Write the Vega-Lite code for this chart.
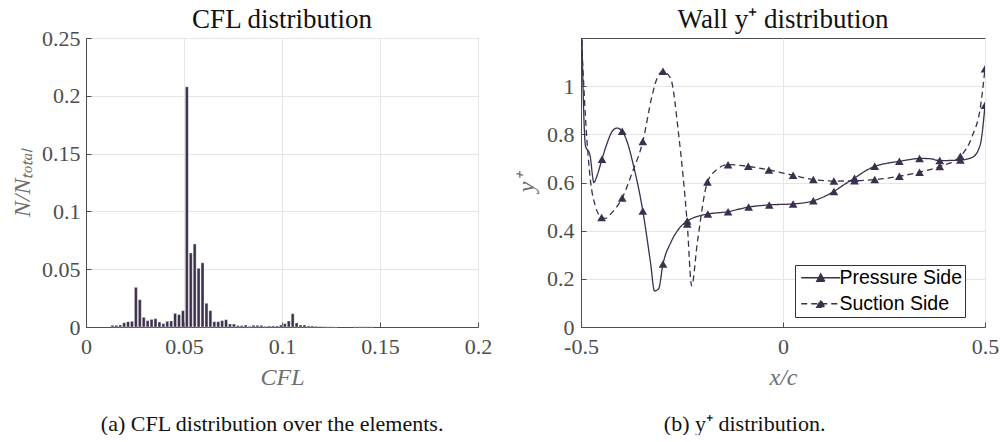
{
  "$schema": "https://vega.github.io/schema/vega-lite/v6.json",
  "background": "white",
  "padding": {"left": 10, "top": 5, "right": 0, "bottom": 0},
  "config": {
    "font": "Liberation Serif",
    "view": {"stroke": "#4d4d4d", "strokeWidth": 1},
    "axis": {
      "grid": true, "gridColor": "#e6e6e6", "gridWidth": 1,
      "domainColor": "#4d4d4d", "tickColor": "#4d4d4d", "tickSize": -5,
      "labelFont": "Liberation Serif", "labelFontSize": 22, "labelColor": "#4d4d4d",
      "labelFlush": false, "labelOverlap": false,
      "titleFont": "Liberation Serif", "titleFontSize": 24, "titleFontStyle": "italic",
      "titleFontWeight": "normal", "titleColor": "#6e6e6e"
    },
    "title": {"font": "Liberation Serif", "fontSize": 27, "fontWeight": "normal", "color": "#111111"},
    "concat": {"spacing": 21}
  },
  "hconcat": [
    {
      "title": {"text": "(a) CFL distribution over the elements.", "orient": "bottom", "anchor": "middle", "fontSize": 22, "color": "#111111", "offset": 24, "dx": 21},
      "vconcat": [
        {
          "title": {"text": "CFL distribution", "offset": -7},
          "width": 392,
          "height": 289,
          "data": {"values": [
            {"lo": 0.0122, "hi": 0.0142, "f": 0.0014},
            {"lo": 0.0142, "hi": 0.0162, "f": 0.0014},
            {"lo": 0.0162, "hi": 0.0182, "f": 0.0017},
            {"lo": 0.0182, "hi": 0.0202, "f": 0.0037},
            {"lo": 0.0202, "hi": 0.0222, "f": 0.0046},
            {"lo": 0.0222, "hi": 0.0242, "f": 0.0049},
            {"lo": 0.0242, "hi": 0.0262, "f": 0.0343},
            {"lo": 0.0262, "hi": 0.0282, "f": 0.0236},
            {"lo": 0.0282, "hi": 0.0302, "f": 0.0084},
            {"lo": 0.0302, "hi": 0.0322, "f": 0.0055},
            {"lo": 0.0322, "hi": 0.0342, "f": 0.0066},
            {"lo": 0.0342, "hi": 0.0362, "f": 0.0072},
            {"lo": 0.0362, "hi": 0.0382, "f": 0.0043},
            {"lo": 0.0382, "hi": 0.0402, "f": 0.0029},
            {"lo": 0.0402, "hi": 0.0422, "f": 0.0049},
            {"lo": 0.0422, "hi": 0.0442, "f": 0.0052},
            {"lo": 0.0442, "hi": 0.0462, "f": 0.0118},
            {"lo": 0.0462, "hi": 0.0482, "f": 0.0107},
            {"lo": 0.0482, "hi": 0.0502, "f": 0.0141},
            {"lo": 0.0502, "hi": 0.0522, "f": 0.2078},
            {"lo": 0.0522, "hi": 0.0542, "f": 0.064},
            {"lo": 0.0542, "hi": 0.0562, "f": 0.0718},
            {"lo": 0.0562, "hi": 0.0582, "f": 0.0508},
            {"lo": 0.0582, "hi": 0.0602, "f": 0.0555},
            {"lo": 0.0602, "hi": 0.0622, "f": 0.0205},
            {"lo": 0.0622, "hi": 0.0642, "f": 0.0141},
            {"lo": 0.0642, "hi": 0.0662, "f": 0.0046},
            {"lo": 0.0662, "hi": 0.0682, "f": 0.0046},
            {"lo": 0.0682, "hi": 0.0702, "f": 0.0055},
            {"lo": 0.0702, "hi": 0.0722, "f": 0.0063},
            {"lo": 0.0722, "hi": 0.0742, "f": 0.0026},
            {"lo": 0.0742, "hi": 0.0762, "f": 0.0026},
            {"lo": 0.0762, "hi": 0.0782, "f": 0.0012},
            {"lo": 0.0782, "hi": 0.0802, "f": 0.0012},
            {"lo": 0.0802, "hi": 0.0822, "f": 0.0017},
            {"lo": 0.0822, "hi": 0.0842, "f": 0.0006},
            {"lo": 0.0842, "hi": 0.0862, "f": 0.0015},
            {"lo": 0.0862, "hi": 0.0882, "f": 0.0014},
            {"lo": 0.0882, "hi": 0.0902, "f": 0.0014},
            {"lo": 0.0902, "hi": 0.0922, "f": 0.0006},
            {"lo": 0.0922, "hi": 0.0942, "f": 0.0009},
            {"lo": 0.0942, "hi": 0.0962, "f": 0.0009},
            {"lo": 0.0962, "hi": 0.0982, "f": 0.0009},
            {"lo": 0.0982, "hi": 0.1002, "f": 0.0017},
            {"lo": 0.1002, "hi": 0.1022, "f": 0.0029},
            {"lo": 0.1022, "hi": 0.1042, "f": 0.0052},
            {"lo": 0.1042, "hi": 0.1062, "f": 0.0115},
            {"lo": 0.1062, "hi": 0.1082, "f": 0.0035},
            {"lo": 0.1082, "hi": 0.1102, "f": 0.0017},
            {"lo": 0.1102, "hi": 0.1122, "f": 0.0017},
            {"lo": 0.1122, "hi": 0.1142, "f": 0.0009},
            {"lo": 0.1142, "hi": 0.1162, "f": 0.0009},
            {"lo": 0.1162, "hi": 0.1182, "f": 0.0006},
            {"lo": 0.1182, "hi": 0.1202, "f": 0.0005},
            {"lo": 0.1202, "hi": 0.1222, "f": 0.0003},
            {"lo": 0.1222, "hi": 0.1242, "f": 0.0002},
            {"lo": 0.1242, "hi": 0.1262, "f": 0.0002},
            {"lo": 0.1262, "hi": 0.1282, "f": 0.0001},
            {"lo": 0.1362, "hi": 0.1382, "f": 0.0002},
            {"lo": 0.1382, "hi": 0.1402, "f": 0.0002},
            {"lo": 0.1402, "hi": 0.1422, "f": 0.0002},
            {"lo": 0.1422, "hi": 0.1442, "f": 0.0002},
            {"lo": 0.1442, "hi": 0.1462, "f": 0.0002}
          ]},
          "mark": {"type": "bar", "color": "#3b2f4c", "stroke": "white", "strokeWidth": 0.35},
          "encoding": {
            "x": {"field": "lo", "type": "quantitative", "bin": "binned",
                  "scale": {"domain": [0, 0.2], "nice": false, "zero": false},
                  "axis": {"values": [0, 0.05, 0.1, 0.15, 0.2], "labelExpr": "toString(datum.value)", "title": "CFL", "labelPadding": 14, "titlePadding": 8}},
            "x2": {"field": "hi"},
            "y": {"field": "f", "type": "quantitative",
                  "scale": {"domain": [0, 0.25], "nice": false},
                  "axis": {"values": [0, 0.05, 0.1, 0.15, 0.2, 0.25], "labelExpr": "toString(datum.value)", "title": "N/Nₜₒₜₐₗ", "labelPadding": 11, "titlePadding": 7}}
          }
        }
      ]
    },
    {
      "title": {"text": "(b) y⁺ distribution.", "orient": "bottom", "anchor": "middle", "fontSize": 22, "color": "#111111", "offset": 24, "dx": -12},
      "vconcat": [
        {
          "title": {"text": "Wall y⁺ distribution", "offset": 4},
          "width": 404,
          "height": 289,
          "data": {"values": [
            {"side": "Pressure Side", "x": -0.5, "y": 1.4, "m": 0},
            {"side": "Pressure Side", "x": -0.4965, "y": 1.1, "m": 0},
            {"side": "Pressure Side", "x": -0.489, "y": 0.753, "m": 0},
            {"side": "Pressure Side", "x": -0.478, "y": 0.715, "m": 0},
            {"side": "Pressure Side", "x": -0.468, "y": 0.6, "m": 0},
            {"side": "Pressure Side", "x": -0.46, "y": 0.63, "m": 0},
            {"side": "Pressure Side", "x": -0.448, "y": 0.697, "m": 1},
            {"side": "Pressure Side", "x": -0.435, "y": 0.765, "m": 0},
            {"side": "Pressure Side", "x": -0.423, "y": 0.812, "m": 0},
            {"side": "Pressure Side", "x": -0.411, "y": 0.826, "m": 0},
            {"side": "Pressure Side", "x": -0.398, "y": 0.813, "m": 1},
            {"side": "Pressure Side", "x": -0.385, "y": 0.765, "m": 0},
            {"side": "Pressure Side", "x": -0.372, "y": 0.684, "m": 0},
            {"side": "Pressure Side", "x": -0.347, "y": 0.482, "m": 1},
            {"side": "Pressure Side", "x": -0.328, "y": 0.268, "m": 0},
            {"side": "Pressure Side", "x": -0.318, "y": 0.15, "m": 0},
            {"side": "Pressure Side", "x": -0.308, "y": 0.158, "m": 0},
            {"side": "Pressure Side", "x": -0.297, "y": 0.262, "m": 1},
            {"side": "Pressure Side", "x": -0.278, "y": 0.35, "m": 0},
            {"side": "Pressure Side", "x": -0.258, "y": 0.407, "m": 0},
            {"side": "Pressure Side", "x": -0.237, "y": 0.44, "m": 1},
            {"side": "Pressure Side", "x": -0.216, "y": 0.457, "m": 0},
            {"side": "Pressure Side", "x": -0.186, "y": 0.469, "m": 1},
            {"side": "Pressure Side", "x": -0.136, "y": 0.479, "m": 1},
            {"side": "Pressure Side", "x": -0.085, "y": 0.498, "m": 1},
            {"side": "Pressure Side", "x": -0.034, "y": 0.507, "m": 1},
            {"side": "Pressure Side", "x": 0.025, "y": 0.511, "m": 1},
            {"side": "Pressure Side", "x": 0.075, "y": 0.524, "m": 1},
            {"side": "Pressure Side", "x": 0.126, "y": 0.563, "m": 1},
            {"side": "Pressure Side", "x": 0.152, "y": 0.592, "m": 0},
            {"side": "Pressure Side", "x": 0.177, "y": 0.618, "m": 1},
            {"side": "Pressure Side", "x": 0.202, "y": 0.646, "m": 0},
            {"side": "Pressure Side", "x": 0.227, "y": 0.667, "m": 1},
            {"side": "Pressure Side", "x": 0.258, "y": 0.68, "m": 0},
            {"side": "Pressure Side", "x": 0.288, "y": 0.688, "m": 1},
            {"side": "Pressure Side", "x": 0.313, "y": 0.695, "m": 0},
            {"side": "Pressure Side", "x": 0.338, "y": 0.7, "m": 1},
            {"side": "Pressure Side", "x": 0.363, "y": 0.699, "m": 0},
            {"side": "Pressure Side", "x": 0.388, "y": 0.691, "m": 1},
            {"side": "Pressure Side", "x": 0.439, "y": 0.693, "m": 1},
            {"side": "Pressure Side", "x": 0.469, "y": 0.705, "m": 0},
            {"side": "Pressure Side", "x": 0.488, "y": 0.755, "m": 0},
            {"side": "Pressure Side", "x": 0.5, "y": 0.921, "m": 1},
            {"side": "Suction Side", "x": -0.5, "y": 1.4, "m": 0},
            {"side": "Suction Side", "x": -0.497, "y": 1.15, "m": 0},
            {"side": "Suction Side", "x": -0.493, "y": 1.0, "m": 0},
            {"side": "Suction Side", "x": -0.477, "y": 0.614, "m": 0},
            {"side": "Suction Side", "x": -0.464, "y": 0.5, "m": 0},
            {"side": "Suction Side", "x": -0.449, "y": 0.455, "m": 1},
            {"side": "Suction Side", "x": -0.44, "y": 0.451, "m": 0},
            {"side": "Suction Side", "x": -0.423, "y": 0.476, "m": 0},
            {"side": "Suction Side", "x": -0.398, "y": 0.536, "m": 1},
            {"side": "Suction Side", "x": -0.373, "y": 0.642, "m": 0},
            {"side": "Suction Side", "x": -0.347, "y": 0.77, "m": 1},
            {"side": "Suction Side", "x": -0.324, "y": 0.961, "m": 0},
            {"side": "Suction Side", "x": -0.31, "y": 1.04, "m": 0},
            {"side": "Suction Side", "x": -0.297, "y": 1.062, "m": 1},
            {"side": "Suction Side", "x": -0.278, "y": 1.031, "m": 0},
            {"side": "Suction Side", "x": -0.258, "y": 0.795, "m": 0},
            {"side": "Suction Side", "x": -0.237, "y": 0.428, "m": 1},
            {"side": "Suction Side", "x": -0.226, "y": 0.171, "m": 0},
            {"side": "Suction Side", "x": -0.212, "y": 0.351, "m": 0},
            {"side": "Suction Side", "x": -0.187, "y": 0.602, "m": 1},
            {"side": "Suction Side", "x": -0.167, "y": 0.649, "m": 0},
            {"side": "Suction Side", "x": -0.136, "y": 0.674, "m": 1},
            {"side": "Suction Side", "x": -0.086, "y": 0.667, "m": 1},
            {"side": "Suction Side", "x": -0.035, "y": 0.652, "m": 1},
            {"side": "Suction Side", "x": 0.025, "y": 0.63, "m": 1},
            {"side": "Suction Side", "x": 0.075, "y": 0.612, "m": 1},
            {"side": "Suction Side", "x": 0.126, "y": 0.606, "m": 1},
            {"side": "Suction Side", "x": 0.177, "y": 0.607, "m": 1},
            {"side": "Suction Side", "x": 0.227, "y": 0.612, "m": 1},
            {"side": "Suction Side", "x": 0.288, "y": 0.626, "m": 1},
            {"side": "Suction Side", "x": 0.338, "y": 0.643, "m": 1},
            {"side": "Suction Side", "x": 0.388, "y": 0.666, "m": 1},
            {"side": "Suction Side", "x": 0.439, "y": 0.709, "m": 1},
            {"side": "Suction Side", "x": 0.469, "y": 0.795, "m": 0},
            {"side": "Suction Side", "x": 0.488, "y": 0.906, "m": 0},
            {"side": "Suction Side", "x": 0.5, "y": 1.072, "m": 1}
          ]},
          "encoding": {
            "x": {"field": "x", "type": "quantitative",
                  "scale": {"domain": [-0.5, 0.5], "nice": false, "zero": false},
                  "axis": {"values": [-0.5, 0, 0.5], "labelExpr": "toString(datum.value)", "title": "x/c", "labelPadding": 14, "titlePadding": 8}},
            "y": {"field": "y", "type": "quantitative",
                  "scale": {"domain": [0, 1.2], "nice": false},
                  "axis": {"values": [0, 0.2, 0.4, 0.6, 0.8, 1], "labelExpr": "toString(datum.value)", "title": "y⁺", "labelPadding": 12, "titlePadding": 8}}
          },
          "layer": [
            {
              "mark": {"type": "line", "interpolate": "monotone", "clip": true, "strokeWidth": 1.3, "color": "#3b2f4c"},
              "encoding": {
                "strokeDash": {"field": "side", "type": "nominal",
                  "scale": {"domain": ["Pressure Side", "Suction Side"], "range": [[1, 0], [6, 4]]},
                  "legend": {
                    "orient": "none", "legendX": 709, "legendY": 227, "title": null,
                    "symbolType": "M-1.3,0L6.5,0M1.8,0.7L2.6,-0.8L3.4,0.7Z",
                    "symbolSize": 100, "symbolStrokeColor": "#3b2f4c", "symbolFillColor": "#3b2f4c",
                    "symbolStrokeWidth": 1.3,
                    "labelFont": "Liberation Sans", "labelFontSize": 19.5, "labelColor": "#000000",
                    "strokeColor": "#333333", "fillColor": "white", "padding": 3, "rowPadding": 5, "labelOffset": 22
                  }}
              }
            },
            {
              "transform": [{"filter": "datum.m == 1"}],
              "mark": {"type": "point", "shape": "triangle-up", "filled": true, "size": 75, "color": "#3b2f4c", "opacity": 1, "clip": true}
            }
          ]
        }
      ]
    }
  ]
}
